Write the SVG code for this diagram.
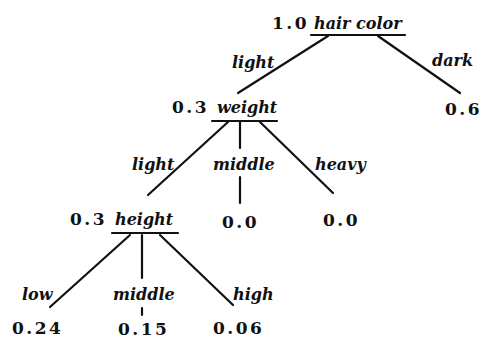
<svg xmlns="http://www.w3.org/2000/svg" width="482" height="340" viewBox="0 0 482 340">
<style>
.num{font-family:"DejaVu Serif","Liberation Serif",serif;font-weight:bold;font-size:17px;letter-spacing:2.5px;fill:#111}
.lab{font-family:"DejaVu Serif","Liberation Serif",serif;font-style:italic;font-weight:bold;font-size:16px;fill:#111}
.ln{stroke:#111;stroke-width:2.2;fill:none;stroke-linecap:round}
</style>
<rect width="482" height="340" fill="#fff"/>
<g id="connectors">
<line class="ln" x1="328" y1="36" x2="238" y2="93"/>
<line class="ln" x1="378" y1="36" x2="460" y2="93"/>
<line class="ln" x1="228" y1="122" x2="148" y2="195"/>
<line class="ln" x1="240" y1="122" x2="240" y2="148"/>
<line class="ln" x1="240" y1="177" x2="240" y2="203"/>
<line class="ln" x1="260" y1="122" x2="333" y2="193"/>
<line class="ln" x1="130" y1="235" x2="50" y2="307"/>
<line class="ln" x1="142" y1="235" x2="142" y2="278"/>
<line class="ln" x1="142" y1="308" x2="142" y2="315"/>
<line class="ln" x1="160" y1="235" x2="233" y2="305"/>
<text class="lab" x="232" y="68">light</text>
<text class="lab" x="432" y="66">dark</text>
<text class="lab" x="132" y="170">light</text>
<text class="lab" x="213" y="170">middle</text>
<text class="lab" x="315" y="170">heavy</text>
<text class="lab" x="22" y="300">low</text>
<text class="lab" x="113" y="300">middle</text>
<text class="lab" x="233" y="300">high</text>
</g>
<g id="node-hair-color">
<text class="num" x="272" y="29">1.0</text>
<text class="lab" x="314" y="29">hair color</text>
<line class="ln" x1="311" y1="35" x2="405" y2="35"/>
</g>
<g id="node-weight">
<text class="num" x="172" y="113">0.3</text>
<text class="lab" x="217" y="113">weight</text>
<line class="ln" x1="212" y1="121" x2="277" y2="121"/>
</g>
<g id="node-height">
<text class="num" x="70" y="225">0.3</text>
<text class="lab" x="115" y="225">height</text>
<line class="ln" x1="112" y1="233" x2="178" y2="233"/>
</g>
<g id="leaf-dark"><text class="num" x="445" y="115">0.6</text></g>
<g id="leaf-middle"><text class="num" x="222" y="228">0.0</text></g>
<g id="leaf-heavy"><text class="num" x="323" y="226">0.0</text></g>
<g id="leaf-low"><text class="num" x="12" y="334">0.24</text></g>
<g id="leaf-hmiddle"><text class="num" x="118" y="335">0.15</text></g>
<g id="leaf-high"><text class="num" x="213" y="334">0.06</text></g>
</svg>
